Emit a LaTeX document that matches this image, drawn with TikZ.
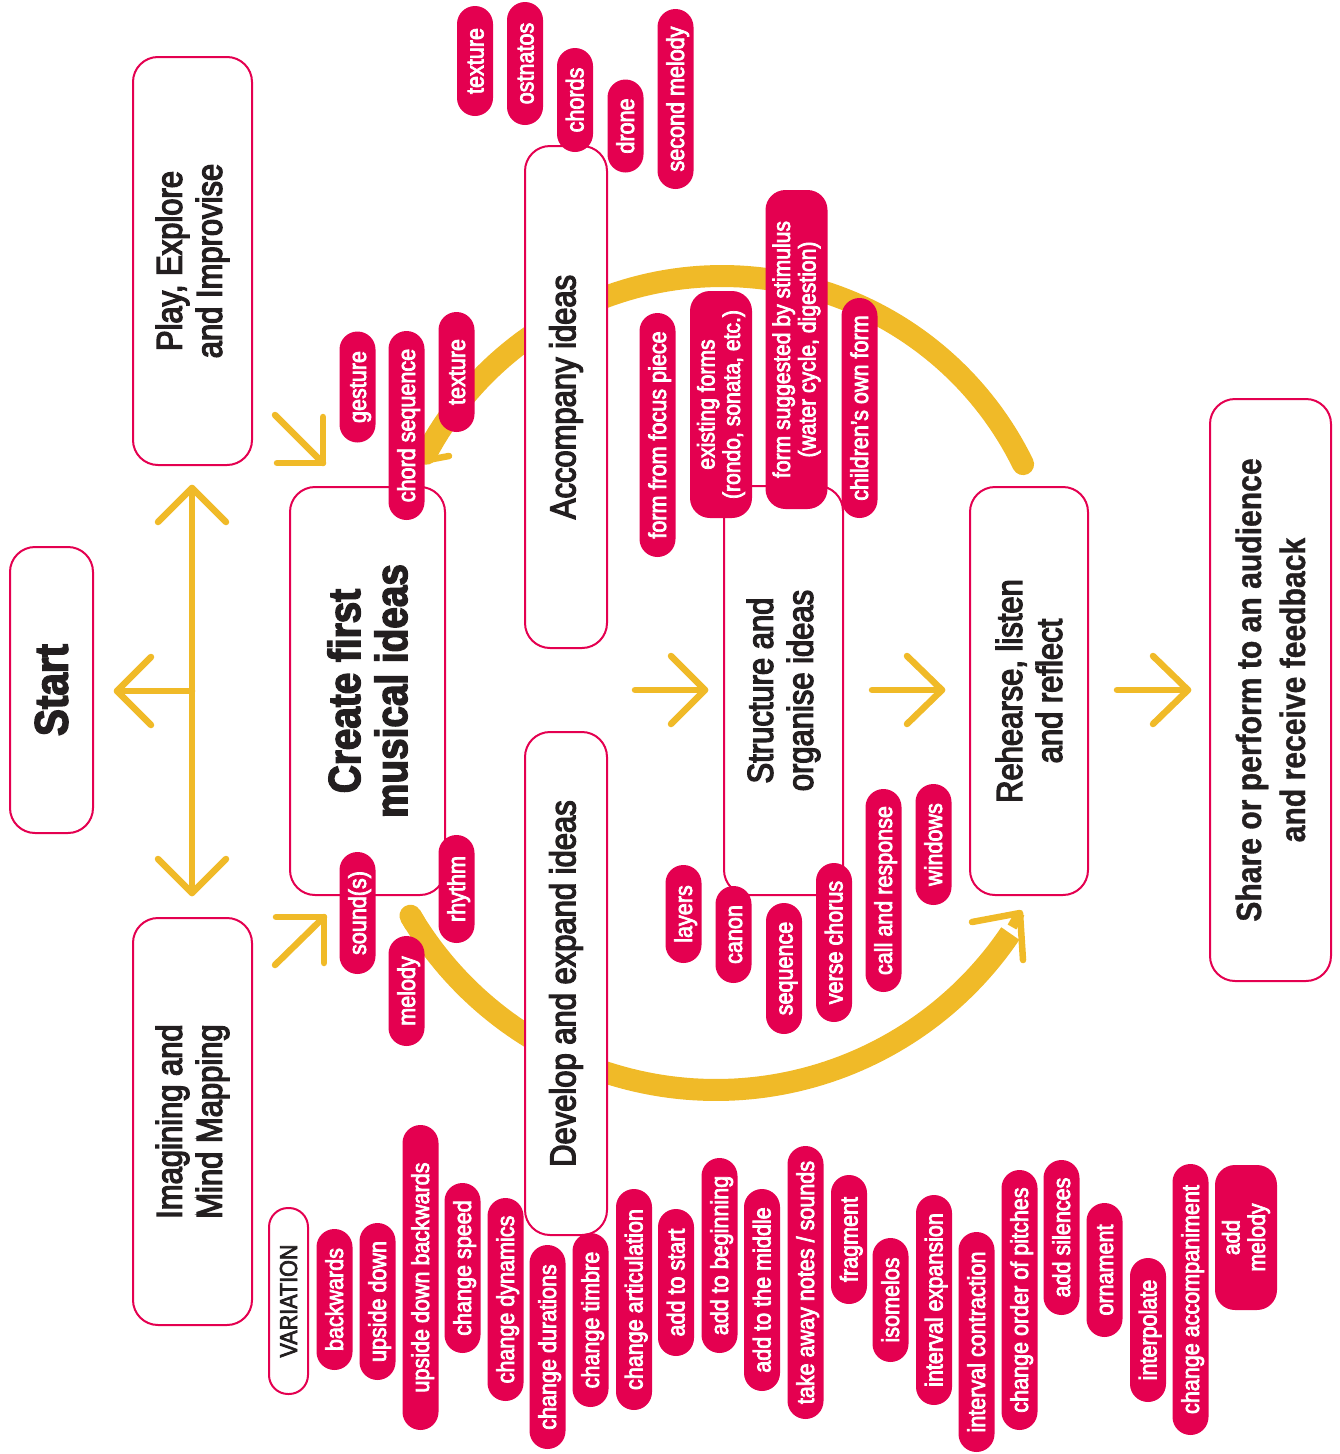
\documentclass[tikz,border=0pt]{standalone}
\usepackage{fontspec}
\setmainfont{Liberation Sans}[FakeStretch=0.86]
\newfontfamily\medf{Liberation Sans}[FakeStretch=0.86, FakeBold=3.6]
\newfontfamily\pillf{Liberation Sans}[FakeStretch=0.88, FakeBold=3]
\newfontfamily\heavyf{Liberation Sans Bold}[FakeStretch=0.86, FakeBold=3]
\newfontfamily\sharef{Liberation Sans Bold}[FakeStretch=0.86, FakeBold=1]
\definecolor{mag}{RGB}{228,0,80}
\definecolor{gold}{RGB}{240,186,40}
\definecolor{ink}{RGB}{35,31,32}
\tikzset{
 stagebox/.style={rotate=90, draw=mag, line width=2pt, fill=white, rounded corners=25pt, align=center, text=ink, inner sep=0pt},
 pill/.style={rotate=90, fill=mag, text=white, rounded corners=18pt, minimum height=36pt, inner xsep=12pt, inner ysep=0pt, text height=19pt, text depth=2pt, font=\pillf\fontsize{24.5}{26}\selectfont},
 widepill/.style={rotate=90, fill=mag, text=white, rounded corners=20pt, minimum height=62pt, inner xsep=12pt, inner ysep=0pt, align=center, font=\pillf\fontsize{24}{25.5}\selectfont},
 outpill/.style={pill, fill=white, draw=mag, line width=2pt, text=ink, minimum height=39pt, rounded corners=19pt},
 thinarrow/.style={draw=gold, line width=6.5pt, line cap=round, line join=round},
 band/.style={draw=gold, line width=22pt, line cap=round},
 medtext/.style={font=\medf\fontsize{36}{40}\selectfont},
}
\begin{document}
\begin{tikzpicture}[x=1pt,y=-1pt]
\useasboundingbox (0,0) rectangle (1340,1454);
% ---- big circular bands ----
\draw[band] plot[domain=334:208, samples=90] ({722+335*cos(\x)}, {611+335*sin(\x)});
\coordinate (uptip) at (412,463);
\draw[thinarrow] (uptip) ++(37,-7) -- (uptip) -- ++(-16,-43);
\draw[band, line cap=butt] plot[domain=149.4:34, samples=90] ({716+355*cos(\x)}, {735+355*sin(\x)});
\draw[band] plot[domain=149.4:148, samples=3] ({716+355*cos(\x)}, {735+355*sin(\x)});
\coordinate (lowtip) at (1020,913);
\draw[gold, line width=10pt, line cap=butt] (1012,927) -- (lowtip);
\draw[thinarrow] (lowtip) ++(-48,9) -- (lowtip) -- ++(3,47);
% ---- stage boxes ----
\node[stagebox, minimum width=286pt, minimum height=83pt, font=\heavyf\fontsize{47}{50}\selectfont] (start) at (51.5,690) {Start};
\node[stagebox, medtext, minimum width=408pt, minimum height=119pt] (play) at (192.5,261) {Play, Explore\\and Improvise};
\node[stagebox, medtext, minimum width=407pt, minimum height=119pt] (imag) at (192.5,1121.5) {Imagining and\\Mind Mapping};
\node[stagebox, minimum width=408pt, minimum height=155pt, font=\heavyf\fontsize{45}{47}\selectfont] (create) at (367.5,691) {Create first\\musical ideas};
\node[stagebox, medtext, minimum width=502pt, minimum height=82pt] (accomp) at (566,397) {Accompany ideas};
\node[stagebox, medtext, minimum width=503pt, minimum height=82pt] (develop) at (566,983.5) {Develop and expand ideas};
\node[stagebox, medtext, minimum width=409pt, minimum height=119pt] (struct) at (783.5,690.5) {Structure and\\organise ideas};
\node[stagebox, medtext, minimum width=408pt, minimum height=118pt] (rehearse) at (1029,691) {Rehearse, listen\\and reflect};
\node[stagebox, minimum width=582pt, minimum height=121pt, font=\sharef\fontsize{35}{44}\selectfont] (share) at (1270.5,690) {Share or perform to an audience\\and receive feedback};
% ---- thin arrows ----
\coordinate (vtop) at (192,488);
\coordinate (vbot) at (192,893);
\coordinate (vmid) at (192,691);
\coordinate (stip) at (117,691);
\draw[thinarrow] (vtop) -- (vbot);
\draw[thinarrow] (vtop) ++(-34,34) -- (vtop) -- ++(34,34);
\draw[thinarrow] (vbot) ++(-34,-34) -- (vbot) -- ++(34,-34);
\draw[thinarrow] (vmid) -- (stip);
\draw[thinarrow] (stip) ++(34,-34) -- (stip) -- ++(34,34);
\coordinate (pa) at (275,415); \coordinate (pb) at (323,463);
\draw[thinarrow] (pa) -- (pb);
\draw[thinarrow] (pb) ++(0,-46) -- (pb) -- ++(-46,0);
\coordinate (ia) at (275,965); \coordinate (ib) at (324,917);
\draw[thinarrow] (ia) -- (ib);
\draw[thinarrow] (ib) ++(-48,0) -- (ib) -- ++(0,46);
\coordinate (ca) at (635,690); \coordinate (cb) at (705,690);
\draw[thinarrow] (ca) -- (cb);
\draw[thinarrow] (cb) ++(-34,-34) -- (cb) -- ++(-34,34);
\coordinate (sa) at (872,690); \coordinate (sb) at (942,690);
\draw[thinarrow] (sa) -- (sb);
\draw[thinarrow] (sb) ++(-35,-34) -- (sb) -- ++(-35,34);
\coordinate (ra) at (1117,690); \coordinate (rb) at (1188,690);
\draw[thinarrow] (ra) -- (rb);
\draw[thinarrow] (rb) ++(-35,-34) -- (rb) -- ++(-35,34);
% ---- accompany pills ----
\node[pill, minimum width=110pt] (a1) at (475,61) {texture};
\node[pill, minimum width=123pt] (a2) at (525,63.5) {ostnatos};
\node[pill, minimum width=104pt] (a3) at (575,100) {chords};
\node[pill, minimum width=93pt] (a4) at (625.5,126) {drone};
\node[pill, minimum width=180pt] (a5) at (675.5,99) {second melody};
% ---- create pills ----
\node[pill, minimum width=111pt] (c1) at (357.5,387) {gesture};
\node[pill, minimum width=189pt] (c2) at (406.5,425.5) {chord sequence};
\node[pill, minimum width=120pt] (c3) at (456.5,372) {texture};
\node[pill, minimum width=122pt] (c4) at (357.5,913) {sound(s)};
\node[pill, minimum width=108pt] (c5) at (456.5,889) {rhythm};
\node[pill, minimum width=110pt] (c6) at (406.5,991) {melody};
% ---- structure pills ----
\node[pill, minimum width=244pt] (s1) at (657.5,435) {form from focus piece};
\node[widepill, minimum width=227pt] (s2) at (721,404.5) {existing forms\\(rondo, sonata, etc.)};
\node[widepill, minimum width=319pt] (s3) at (796.5,349.5) {form suggested by stimulus\\(water cycle, digestion)};
\node[pill, minimum width=220pt] (s4) at (859.5,408) {children’s own form};
\node[pill, minimum width=98pt] (s5) at (683.5,914) {layers};
\node[pill, minimum width=97pt] (s6) at (733.5,934.5) {canon};
\node[pill, minimum width=131pt] (s7) at (784,968.5) {sequence};
\node[pill, minimum width=159pt] (s8) at (834,942.5) {verse chorus};
\node[pill, minimum width=203pt] (s9) at (883.5,890.5) {call and response};
\node[pill, minimum width=121pt] (s10) at (933.5,844.5) {windows};
% ---- variation pills ----
\node[outpill, minimum width=186pt] (var) at (288.5,1301) {VARIATION};
\node[pill, minimum width=141pt] (v1) at (334.5,1299.5) {backwards};
\node[pill, minimum width=157pt] (v2) at (377.5,1301.5) {upside down};
\node[pill, minimum width=305pt] (v3) at (420.5,1277.5) {upside down backwards};
\node[pill, minimum width=170pt] (v4) at (462.5,1268) {change speed};
\node[pill, minimum width=203pt] (v5) at (505.5,1299.5) {change dynamics};
\node[pill, minimum width=204pt] (v6) at (547.5,1347) {change durations};
\node[pill, minimum width=174pt] (v7) at (590.5,1320) {change timbre};
\node[pill, minimum width=221pt] (v8) at (634,1299.5) {change articulation};
\node[pill, minimum width=147pt] (v9) at (676,1282.5) {add to start};
\node[pill, minimum width=195pt] (v10) at (719.5,1255.5) {add to beginning};
\node[pill, minimum width=202pt] (v11) at (762,1290) {add to the middle};
\node[pill, minimum width=273pt] (v12) at (805.5,1282.5) {take away notes / sounds};
\node[pill, minimum width=129pt] (v13) at (849,1239.5) {fragment};
\node[pill, minimum width=124pt] (v14) at (890.5,1300) {isomelos};
\node[pill, minimum width=210pt] (v15) at (934,1300) {interval expansion};
\node[pill, minimum width=220pt] (v16) at (976.5,1342) {interval contraction};
\node[pill, minimum width=260pt] (v17) at (1019.5,1300) {change order of pitches};
\node[pill, minimum width=155pt] (v18) at (1061.5,1237.5) {add silences};
\node[pill, minimum width=134pt] (v19) at (1104.5,1270) {ornament};
\node[pill, minimum width=144pt] (v20) at (1148,1330) {interpolate};
\node[pill, minimum width=271pt] (v21) at (1190.5,1299.5) {change accompaniment};
\node[widepill, minimum width=145pt] (v22) at (1246,1237.5) {add\\melody};
\end{tikzpicture}
\end{document}
